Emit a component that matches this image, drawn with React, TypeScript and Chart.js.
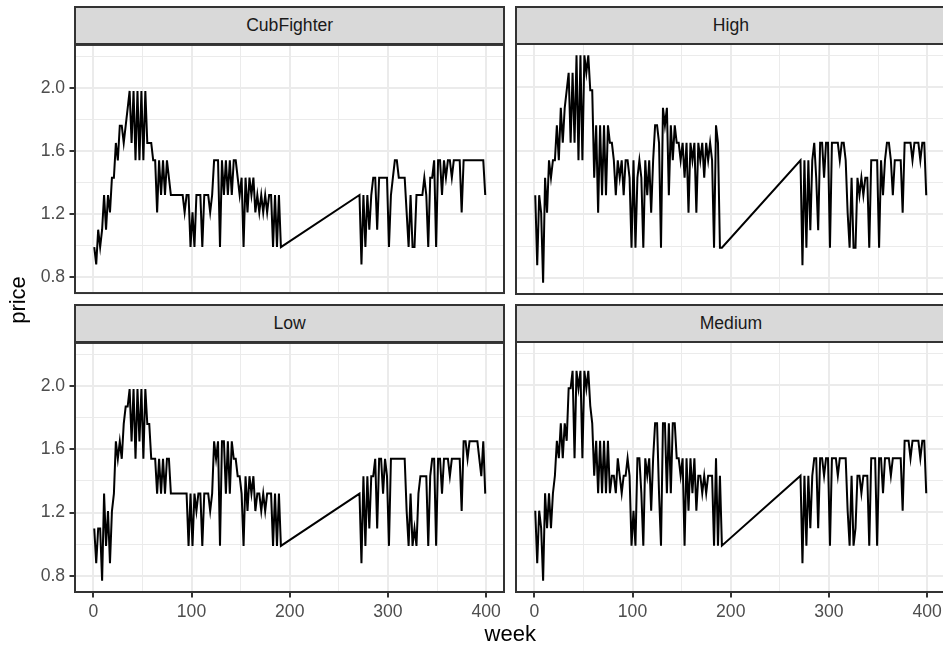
import React, { useEffect, useRef } from "react";
import { Chart, registerables } from "chart.js";

Chart.register(...registerables);

// ---- data ----
const weeksA = [
  1, 3, 5, 7, 9, 11, 13, 15, 17, 19,
  21, 23, 25, 27, 29, 31, 33, 35, 37, 39,
  41, 43, 45, 47, 49, 51, 53, 55, 57, 59,
  61, 63, 65, 67, 69, 71, 73, 75, 77, 79,
  81, 83, 85, 87, 89, 91, 93, 95, 97, 99,
  101, 103, 105, 107, 109, 111, 113, 115, 117, 119,
  121, 123, 125, 127, 129, 131, 133, 135, 137, 139,
  141, 143, 145, 147, 149, 151, 153, 155, 157, 159,
  161, 163, 165, 167, 169, 171, 173, 175, 177, 179,
  181, 183, 185, 187, 189, 191,
];
const weeksB = [
  271, 273, 275, 277, 279, 281, 283, 285, 287, 289,
  291, 293, 295, 297, 299, 301, 303, 305, 307, 309,
  311, 313, 315, 317, 319, 321, 323, 325, 327, 329,
  331, 333, 335, 337, 339, 341, 343, 345, 347, 349,
  351, 353, 355, 357, 359, 361, 363, 365, 367, 369,
  371, 373, 375, 377, 379, 381, 383, 385, 387, 389,
  391, 393, 395, 397, 399,
];

const cubFighterA = [
  0.99, 0.88, 1.10, 0.99, 1.10, 1.32, 1.10, 1.32, 1.21, 1.43,
  1.43, 1.65, 1.54, 1.76, 1.76, 1.65, 1.76, 1.87, 1.98, 1.65,
  1.98, 1.54, 1.98, 1.54, 1.98, 1.54, 1.98, 1.65, 1.65, 1.65,
  1.54, 1.54, 1.21, 1.54, 1.32, 1.54, 1.32, 1.54, 1.43, 1.32,
  1.32, 1.32, 1.32, 1.32, 1.32, 1.32, 1.21, 1.32, 1.32, 0.99,
  1.21, 0.99, 1.32, 1.32, 1.32, 0.99, 1.32, 1.32, 1.32, 1.21,
  1.32, 1.54, 1.54, 1.54, 0.99, 1.54, 1.32, 1.54, 1.32, 1.54,
  1.32, 1.54, 1.54, 1.43, 1.32, 1.43, 0.99, 1.43, 1.21, 1.43,
  1.32, 1.43, 1.21, 1.32, 1.21, 1.32, 1.21, 1.32, 1.21, 1.32,
  1.32, 0.99, 1.32, 0.99, 1.32, 0.99,
];
const cubFighterB = [
  1.32, 0.88, 1.32, 0.99, 1.32, 1.10, 1.32, 1.43, 1.43, 1.10,
  1.43, 1.43, 1.43, 1.43, 1.43, 0.99, 1.32, 1.43, 1.54, 1.54,
  1.43, 1.43, 1.43, 1.43, 1.21, 0.99, 1.32, 0.99, 0.99, 1.32,
  1.32, 1.32, 1.32, 1.43, 1.32, 0.99, 1.43, 1.43, 1.54, 0.99,
  1.54, 1.54, 1.32, 1.54, 1.43, 1.54, 1.54, 1.43, 1.54, 1.54,
  1.54, 1.54, 1.21, 1.54, 1.54, 1.54, 1.54, 1.54, 1.54, 1.54,
  1.54, 1.54, 1.54, 1.54, 1.32,
];

const highA = [
  1.32, 0.88, 1.32, 1.21, 0.77, 1.43, 1.21, 1.54, 1.43, 1.54,
  1.54, 1.76, 1.54, 1.87, 1.65, 1.87, 1.98, 2.09, 1.65, 2.09,
  1.65, 2.20, 1.54, 2.20, 1.54, 2.20, 2.09, 2.20, 1.98, 1.98,
  1.43, 1.76, 1.21, 1.76, 1.32, 1.76, 1.32, 1.76, 1.65, 1.65,
  1.54, 1.32, 1.54, 1.43, 1.54, 1.32, 1.54, 1.54, 1.43, 0.99,
  1.54, 0.99, 1.43, 1.54, 1.43, 0.99, 1.54, 1.32, 1.54, 1.21,
  1.54, 1.76, 1.76, 1.65, 0.99, 1.87, 1.76, 1.87, 1.32, 1.76,
  1.54, 1.76, 1.65, 1.65, 1.54, 1.65, 1.43, 1.65, 1.21, 1.65,
  1.54, 1.65, 1.21, 1.65, 1.54, 1.65, 1.43, 1.65, 1.54, 1.65,
  1.54, 0.99, 1.76, 1.65, 0.99, 0.99,
];
const highB = [
  1.54, 0.88, 1.54, 0.99, 1.54, 1.10, 1.54, 1.65, 1.43, 1.10,
  1.65, 1.65, 1.43, 1.65, 1.65, 0.99, 1.65, 1.65, 1.65, 1.65,
  1.54, 1.65, 1.65, 1.54, 1.21, 0.99, 1.43, 0.99, 0.99, 1.43,
  1.32, 1.43, 1.32, 1.43, 1.43, 0.99, 1.54, 1.54, 1.54, 1.54,
  0.99, 1.54, 1.32, 1.54, 1.65, 1.65, 1.54, 1.32, 1.54, 1.54,
  1.54, 1.54, 1.21, 1.65, 1.65, 1.65, 1.65, 1.54, 1.65, 1.65,
  1.65, 1.54, 1.65, 1.65, 1.32,
];

const lowA = [
  1.10, 0.88, 1.10, 1.10, 0.77, 1.32, 0.99, 1.21, 0.88, 1.21,
  1.32, 1.65, 1.54, 1.65, 1.54, 1.76, 1.87, 1.87, 1.98, 1.65,
  1.98, 1.54, 1.98, 1.65, 1.98, 1.54, 1.98, 1.76, 1.76, 1.54,
  1.54, 1.54, 1.32, 1.54, 1.32, 1.54, 1.32, 1.54, 1.54, 1.32,
  1.32, 1.32, 1.32, 1.32, 1.32, 1.32, 1.32, 1.32, 0.99, 1.32,
  0.99, 1.32, 1.21, 1.32, 1.32, 0.99, 1.32, 1.32, 1.32, 1.21,
  1.32, 1.65, 1.54, 1.65, 0.99, 1.65, 1.65, 1.32, 1.65, 1.32,
  1.65, 1.54, 1.54, 1.43, 1.43, 1.32, 0.99, 1.43, 1.21, 1.43,
  1.32, 1.43, 1.21, 1.32, 1.32, 1.21, 1.32, 1.21, 1.32, 1.32,
  1.32, 0.99, 1.32, 0.99, 1.32, 0.99,
];
const lowB = [
  1.32, 0.88, 1.43, 0.99, 1.43, 1.10, 1.43, 1.43, 1.54, 1.10,
  1.54, 1.54, 1.32, 1.54, 1.43, 0.99, 1.54, 1.54, 1.54, 1.54,
  1.54, 1.54, 1.54, 1.54, 1.21, 0.99, 1.32, 0.99, 1.10, 0.99,
  1.32, 1.43, 1.43, 1.43, 1.43, 0.99, 1.43, 1.54, 1.54, 0.99,
  1.54, 1.54, 1.32, 1.54, 1.54, 1.54, 1.43, 1.54, 1.54, 1.54,
  1.54, 1.54, 1.21, 1.65, 1.65, 1.54, 1.65, 1.65, 1.65, 1.65,
  1.65, 1.54, 1.43, 1.65, 1.32,
];

const mediumA = [
  1.21, 0.88, 1.21, 1.10, 0.77, 1.32, 1.10, 1.32, 1.10, 1.32,
  1.43, 1.65, 1.54, 1.76, 1.54, 1.76, 1.65, 1.98, 1.98, 2.09,
  1.54, 2.09, 1.98, 2.09, 1.54, 2.09, 1.98, 2.09, 1.87, 1.76,
  1.43, 1.65, 1.32, 1.65, 1.32, 1.65, 1.32, 1.65, 1.32, 1.43,
  1.43, 1.32, 1.54, 1.43, 1.32, 1.43, 1.43, 1.54, 1.43, 0.99,
  1.21, 0.99, 1.54, 1.54, 1.32, 0.99, 1.54, 1.43, 1.54, 1.21,
  1.54, 1.76, 1.76, 1.32, 0.99, 1.76, 1.76, 1.32, 1.76, 1.32,
  1.76, 1.76, 1.54, 1.54, 1.43, 1.54, 0.99, 1.54, 1.21, 1.54,
  1.32, 1.54, 1.21, 1.43, 1.43, 1.32, 1.43, 1.32, 1.43, 1.43,
  1.43, 0.99, 1.54, 0.99, 1.43, 0.99,
];
const mediumB = [
  1.43, 0.88, 1.43, 0.99, 1.43, 1.10, 1.43, 1.54, 1.54, 1.10,
  1.54, 1.54, 1.43, 1.54, 1.54, 0.99, 1.54, 1.54, 1.54, 1.43,
  1.54, 1.54, 1.54, 1.54, 1.21, 0.99, 1.43, 0.99, 1.10, 1.43,
  1.43, 1.32, 1.43, 1.43, 1.43, 0.99, 1.54, 1.54, 1.54, 0.99,
  1.54, 1.54, 1.32, 1.54, 1.54, 1.54, 1.43, 1.54, 1.54, 1.54,
  1.54, 1.54, 1.21, 1.65, 1.65, 1.65, 1.54, 1.65, 1.65, 1.65,
  1.65, 1.54, 1.65, 1.65, 1.32,
];

const weekTicks = [0, 50, 100, 150, 200, 250, 300, 350, 400];
const priceTicks = [0.8, 1.0, 1.2, 1.4, 1.6, 1.8, 2.0, 2.2];
const facetLabels = ["CubFighter", "High", "Low", "Medium"];

// ---- layout / style ----
const FONT = "'Liberation Sans', Arial, Helvetica, sans-serif";
const X_MIN = -18.6;
const X_MAX = 418.1;
const Y_MIN = 0.6985;
const Y_MAX = 2.2715;
const GRID = "#EBEBEB";
const DARK = "#333333";
const LW = 2.0;

type PanelSpec = {
  title: string;
  a: number[];
  b: number[];
  left: number;
  top: number;
  showX: boolean;
  showY: boolean;
};

const PANEL_W = 429.3;
const PANEL_H = 250.3;

const panels: PanelSpec[] = [
  { title: facetLabels[0], a: cubFighterA, b: cubFighterB, left: 75, top: 43.7, showX: false, showY: true },
  { title: facetLabels[1], a: highA, b: highB, left: 516.3, top: 43.7, showX: false, showY: false },
  { title: facetLabels[2], a: lowA, b: lowB, left: 75, top: 341.7, showX: true, showY: true },
  { title: facetLabels[3], a: mediumA, b: mediumB, left: 516.3, top: 341.7, showX: true, showY: false },
];

const borderPlugin = {
  id: "panelBorder",
  afterDraw(chart: any) {
    const { ctx, chartArea: a } = chart;
    ctx.save();
    ctx.strokeStyle = DARK;
    ctx.lineWidth = LW;
    ctx.strokeRect(a.left, a.top, a.right - a.left, a.bottom - a.top);
    ctx.restore();
  },
};

function Panel({ spec }: { spec: PanelSpec }) {
  const ref = useRef<HTMLCanvasElement | null>(null);

  const yW = spec.showY ? spec.left : 4;
  const cLeft = spec.left - yW;
  const padTop = 14;
  const cTop = spec.top - padTop;
  const padRight = 8;
  const cW = yW + PANEL_W + padRight;
  const xH = spec.showX ? 40 : 14;
  const cH = padTop + PANEL_H + xH;

  useEffect(() => {
    if (!ref.current) return;
    const pts = [
      ...weeksA.map((w, i) => ({ x: w, y: spec.a[i] })),
      ...weeksB.map((w, i) => ({ x: w, y: spec.b[i] })),
    ];
    const isMajorX = (v: number) => Math.round(v) % 100 === 0;
    const isMajorY = (v: number) => Math.round(v * 10) % 4 === 0;
    const chart = new Chart(ref.current, {
      type: "line",
      data: {
        datasets: [
          {
            label: spec.title,
            data: pts,
            borderColor: "#000000",
            borderWidth: LW,
            pointRadius: 0,
            tension: 0,
            fill: false,
          },
        ],
      },
      options: {
        animation: false,
        responsive: false,
        maintainAspectRatio: false,
        layout: { padding: { left: 0, top: padTop, right: padRight, bottom: 0 } },
        plugins: { legend: { display: false }, tooltip: { enabled: false }, title: { display: false } },
        scales: {
          x: {
            type: "linear",
            min: X_MIN,
            max: X_MAX,
            afterBuildTicks: (s: any) => {
              s.ticks = weekTicks.map((v) => ({ value: v }));
            },
            afterFit: (s: any) => {
              s.height = xH;
            },
            border: { display: false },
            grid: {
              color: GRID,
              lineWidth: (c: any) => (c.tick && isMajorX(c.tick.value) ? LW : LW / 2),
              drawTicks: spec.showX,
              tickLength: 5.5,
              tickWidth: LW,
              tickColor: (c: any) => (c.tick && isMajorX(c.tick.value) ? DARK : "rgba(0,0,0,0)"),
            },
            ticks: {
              display: spec.showX,
              autoSkip: false,
              maxRotation: 0,
              padding: 4.4,
              color: "#4D4D4D",
              font: { family: FONT, size: 17.6 },
              callback: (v: any) => (isMajorX(Number(v)) ? String(Math.round(Number(v))) : ""),
            },
          },
          y: {
            type: "linear",
            min: Y_MIN,
            max: Y_MAX,
            afterBuildTicks: (s: any) => {
              s.ticks = priceTicks.map((v) => ({ value: v }));
            },
            afterFit: (s: any) => {
              s.width = yW;
            },
            border: { display: false },
            grid: {
              color: GRID,
              lineWidth: (c: any) => (c.tick && isMajorY(c.tick.value) ? LW : LW / 2),
              drawTicks: spec.showY,
              tickLength: 5.5,
              tickWidth: LW,
              tickColor: (c: any) => (c.tick && isMajorY(c.tick.value) ? DARK : "rgba(0,0,0,0)"),
            },
            ticks: {
              display: spec.showY,
              autoSkip: false,
              padding: 4.4,
              color: "#4D4D4D",
              font: { family: FONT, size: 17.6 },
              callback: (v: any) => (isMajorY(Number(v)) ? Number(v).toFixed(1) : ""),
            },
          },
        },
      },
      plugins: [borderPlugin],
    } as any);
    return () => chart.destroy();
  }, [spec]);

  return (
    <>
      <canvas
        ref={ref}
        width={Math.round(cW)}
        height={Math.round(cH)}
        style={{ position: "absolute", left: cLeft, top: cTop, width: Math.round(cW), height: Math.round(cH) }}
      />
      <div
        style={{
          position: "absolute",
          left: spec.left - 1,
          top: spec.top - 37.4,
          width: PANEL_W + 2,
          height: 38.4,
          boxSizing: "border-box",
          border: `2px solid ${DARK}`,
          background: "#D9D9D9",
          color: "#1A1A1A",
          fontFamily: FONT,
          fontSize: 17.6,
          display: "flex",
          alignItems: "center",
          justifyContent: "center",
        }}
      >
        {spec.title}
      </div>
    </>
  );
}

export default function App() {
  return (
    <div
      style={{
        position: "fixed",
        left: 0,
        top: 0,
        width: 943,
        height: 647,
        overflow: "hidden",
        background: "#FFFFFF",
      }}
    >
      {panels.map((p) => (
        <Panel key={p.title} spec={p} />
      ))}
      <div
        style={{
          position: "absolute",
          left: 75,
          width: 870.6,
          top: 621,
          height: 26,
          lineHeight: "26px",
          textAlign: "center",
          fontFamily: FONT,
          fontSize: 22,
          color: "#000000",
        }}
      >
        week
      </div>
      <div
        style={{
          position: "absolute",
          left: 18 - 150,
          top: 300 - 13,
          width: 300,
          height: 26,
          lineHeight: "26px",
          textAlign: "center",
          fontFamily: FONT,
          fontSize: 22,
          color: "#000000",
          transform: "rotate(-90deg)",
        }}
      >
        price
      </div>
    </div>
  );
}
